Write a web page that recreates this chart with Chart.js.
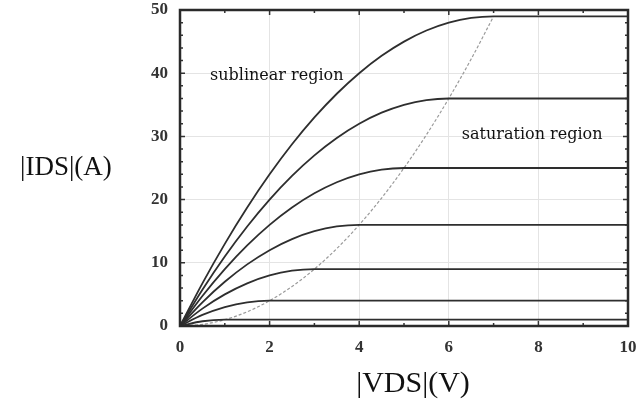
<!DOCTYPE html>
<html>
<head>
    <meta charset="UTF-8">
    <title>IDS - VDS</title>
    <style>
        html, body { margin: 0; padding: 0; background: #fff; }
        .wrap { width: 636px; height: 408px; }
    </style>
</head>
<body>
<div class="wrap"><canvas id="myChart" width="636" height="408"></canvas></div>

<script src="https://cdn.jsdelivr.net/npm/chart.js"></script>
<script>
    // |VDS| sample points (V)
    var vds = [0, 0.5, 1, 1.5, 2, 2.5, 3, 3.5, 4, 4.5, 5, 5.5, 6, 6.5, 7, 10];

    // |IDS| curves (A), one per gate voltage
    var ids1 = [0, 0.75, 1, 1, 1, 1, 1, 1, 1, 1, 1, 1, 1, 1, 1, 1];
    var ids2 = [0, 1.75, 3, 3.75, 4, 4, 4, 4, 4, 4, 4, 4, 4, 4, 4, 4];
    var ids3 = [0, 2.75, 5, 6.75, 8, 8.75, 9, 9, 9, 9, 9, 9, 9, 9, 9, 9];
    var ids4 = [0, 3.75, 7, 9.75, 12, 13.75, 15, 15.75, 16, 16, 16, 16, 16, 16, 16, 16];
    var ids5 = [0, 4.75, 9, 12.75, 16, 18.75, 21, 22.75, 24, 24.75, 25, 25, 25, 25, 25, 25];
    var ids6 = [0, 5.75, 11, 15.75, 20, 23.75, 27, 29.75, 32, 33.75, 35, 35.75, 36, 36, 36, 36];
    var ids7 = [0, 6.75, 13, 18.75, 24, 28.75, 33, 36.75, 40, 42.75, 45, 46.75, 48, 48.75, 49, 49];

    // boundary between sublinear and saturation region (dotted)
    var vdsEdge = [0, 0.5, 1, 1.5, 2, 2.5, 3, 3.5, 4, 4.5, 5, 5.5, 6, 6.5, 7];
    var idsEdge = [0, 0.25, 1, 2.25, 4, 6.25, 9, 12.25, 16, 20.25, 25, 30.25, 36, 42.25, 49];

    var xTicks = [0, 2, 4, 6, 8, 10];
    var yTicks = [0, 10, 20, 30, 40, 50];

    var labels = [
        { text: 'sublinear region', x: 0.67, y: 39.6 },
        { text: 'saturation region', x: 6.29, y: 30.2 }
    ];

    function pts(xs, ys) {
        return xs.map(function (x, i) { return { x: x, y: ys[i] }; });
    }

    var curves = [ids1, ids2, ids3, ids4, ids5, ids6, ids7];
    var datasets = curves.map(function (c) {
        return {
            data: pts(vds, c),
            borderColor: '#2e2e2e',
            borderWidth: 1.8,
            pointRadius: 0,
            cubicInterpolationMode: 'monotone',
            fill: false
        };
    });
    datasets.push({
        data: pts(vdsEdge, idsEdge),
        borderColor: '#9a9a9a',
        borderWidth: 1.2,
        borderDash: [3, 2],
        pointRadius: 0,
        cubicInterpolationMode: 'monotone',
        fill: false
    });

    var tickFont = { family: '"Liberation Serif", serif', size: 17, weight: 'bold' };

    // ticks inside the frame, text labels, axis titles
    var extras = {
        id: 'extras',
        afterDraw: function (chart) {
            var ctx = chart.ctx;
            var a = chart.chartArea;
            var xs = chart.scales.x, ys = chart.scales.y;
            ctx.save();
            ctx.strokeStyle = '#333';
            ctx.lineWidth = 1.5;
            for (var v = 0; v <= 10; v += 1) {
                var len = (v % 2 === 0) ? 5 : 3;
                var px = xs.getPixelForValue(v);
                ctx.beginPath();
                ctx.moveTo(px, a.bottom); ctx.lineTo(px, a.bottom - len);
                ctx.moveTo(px, a.top); ctx.lineTo(px, a.top + len);
                ctx.stroke();
            }
            for (var w = 0; w <= 50; w += 2) {
                var l2 = (w % 10 === 0) ? 5 : 3;
                var py = ys.getPixelForValue(w);
                ctx.beginPath();
                ctx.moveTo(a.left, py); ctx.lineTo(a.left + l2, py);
                ctx.moveTo(a.right, py); ctx.lineTo(a.right - l2, py);
                ctx.stroke();
            }
            // frame
            ctx.lineWidth = 2.5;
            ctx.strokeStyle = '#2a2a2a';
            ctx.strokeRect(a.left, a.top, a.right - a.left, a.bottom - a.top);

            ctx.fillStyle = '#111';
            ctx.font = '16px "DejaVu Serif"';
            ctx.textBaseline = 'middle';
            ctx.textAlign = 'left';
            labels.forEach(function (t) {
                ctx.fillText(t.text, xs.getPixelForValue(t.x), ys.getPixelForValue(t.y));
            });

            ctx.font = '27px "Liberation Serif"';
            ctx.fillText('|IDS|(A)', 20, 168);
            ctx.textAlign = 'center';
            ctx.font = '30px "Liberation Serif"';
            ctx.fillText('|VDS|(V)', 413, 384);
            ctx.restore();
        }
    };

    var ctx = document.getElementById('myChart').getContext('2d');
    var myChart = new Chart(ctx, {
        type: 'line',
        data: { datasets: datasets },
        options: {
            responsive: false,
            animation: false,
            layout: { padding: { left: 0, top: 10, right: 8, bottom: 0 } },
            plugins: {
                legend: { display: false },
                tooltip: { enabled: false }
            },
            scales: {
                x: {
                    type: 'linear',
                    min: 0,
                    max: 10,
                    afterBuildTicks: function (s) { s.ticks = xTicks.map(function (v) { return { value: v }; }); },
                    afterFit: function (s) {
                        s.height = 82;
                        s.paddingLeft = 0;
                        s.paddingRight = 0;
                    },
                    grid: { color: '#e4e4e4', lineWidth: 1, drawTicks: false },
                    border: { display: false },
                    ticks: {
                        padding: 11,
                        color: '#333',
                        font: tickFont,
                        maxRotation: 0
                    }
                },
                y: {
                    type: 'linear',
                    min: 0,
                    max: 50,
                    afterBuildTicks: function (s) { s.ticks = yTicks.map(function (v) { return { value: v }; }); },
                    afterFit: function (s) {
                        s.width = 180;
                        s.paddingTop = 0;
                        s.paddingBottom = 0;
                    },
                    grid: { color: '#e4e4e4', lineWidth: 1, drawTicks: false },
                    border: { display: false },
                    ticks: {
                        padding: 12,
                        color: '#333',
                        font: tickFont
                    }
                }
            }
        },
        plugins: [extras]
    });

    // redraw once fonts are ready so tick labels use the serif face
    if (document.fonts && document.fonts.ready) {
        document.fonts.ready.then(function () { myChart.update(); });
    }
</script>
</body>
</html>
